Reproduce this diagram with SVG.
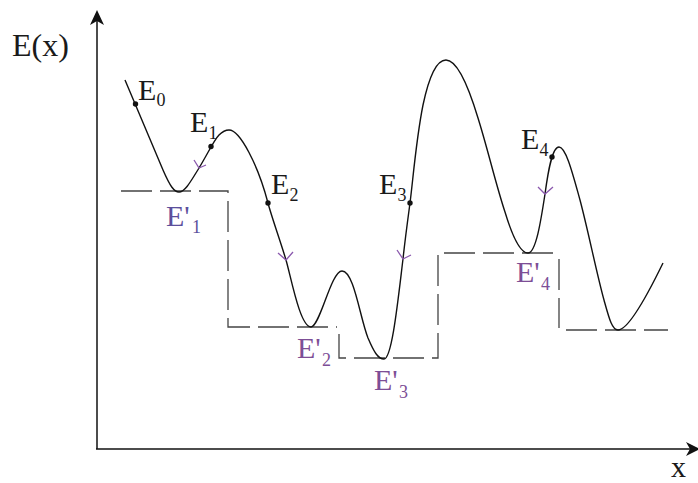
<svg xmlns="http://www.w3.org/2000/svg" width="698" height="483" viewBox="0 0 698 483">
<style>
.lbl{font-family:"Liberation Serif","Times New Roman",serif;font-size:30px;fill:#1a1a1a}
.sub{font-size:18px}
.pl{fill:#7d4e96}
.pl1{fill:#5c4f9c}
.curve{fill:none;stroke:#111;stroke-width:1.4}
.dash{fill:none;stroke:#444;stroke-width:1.3;stroke-dasharray:31 8}
.chev{fill:none;stroke:#8a58ad;stroke-width:1.3}
.axis{stroke:#111;stroke-width:1.5;fill:none}
</style>
<rect width="698" height="483" fill="#fff"/>
<g id="axes">
<line class="axis" x1="97" y1="449" x2="97" y2="16"/>
<path d="M97,10 L104,25 L97,21 L90,25 Z" fill="#111"/>
<line class="axis" x1="96" y1="449" x2="694" y2="449"/>
<path d="M700,449 L686,442 L690,449 L686,456 Z" fill="#111"/>
<text class="lbl" x="12" y="56" style="font-size:32px">E(x)</text>
<text class="lbl" x="671" y="477">x</text>
</g>
<g id="levels">
<path class="dash" d="M121,191 H228 V327 H337"/>
<path class="dash" d="M339,334 V358 H438 V253 H558"/>
<path class="dash" d="M559,259 V328"/>
<path class="dash" d="M566,330 H668"/>
</g>
<g id="curve">
<path class="curve" d="M125,80 L163,170 C170,186 174,192 179,192 C185,192 191,181 199,168 C207,155 214,140 219,135 C223,131 226,130 229,130 C240,130 258,165 268,203 C271,215 281,243 286,260 C291,277 300,327 311,327 C320,327 331,271 342,271 C354,271 360,318 368,338 C374,352 378,359 384,359 C392,359 398,300 403,259 C405,240 408,218 410,203 C413,180 416,140 423,105 C430,72 438,60 446,60 C457,60 468,85 478,118 C488,150 496,185 505,212 C512,235 520,253 528,253 C536,253 541,220 545,194 C548,172 552,147 559,147 C566,147 573,175 580,200 C588,230 597,275 604,300 C609,318 612,330 618,330 C628,330 645,300 663,263"/>
</g>
<g id="connectors">
<path class="chev" d="M194,160 L199,168 L206,165"/>
<path class="chev" d="M278,253 L286,260 L293,252"/>
<path class="chev" d="M397,250 L403,259 L411,255"/>
<path class="chev" d="M538,187 L545,194 L553,187"/>
</g>
<g id="points" fill="#111">
<circle cx="135.5" cy="104" r="2.7"/>
<circle cx="211" cy="146.5" r="2.7"/>
<circle cx="268" cy="203" r="2.7"/>
<circle cx="410" cy="203" r="2.7"/>
<circle cx="552" cy="157" r="2.7"/>
</g>
<g id="E0"><text class="lbl" x="138" y="100">E<tspan class="sub" x="156.5" y="106">0</tspan></text></g>
<g id="E1"><text class="lbl" x="190" y="132">E<tspan class="sub" x="208.5" y="139">1</tspan></text></g>
<g id="E2"><text class="lbl" x="271" y="194">E<tspan class="sub" x="289.5" y="201">2</tspan></text></g>
<g id="E3"><text class="lbl" x="379" y="194">E<tspan class="sub" x="397.5" y="201">3</tspan></text></g>
<g id="E4"><text class="lbl" x="521" y="149">E<tspan class="sub" x="539.5" y="156">4</tspan></text></g>
<g id="Ep1"><text class="lbl pl1" x="166" y="226">E'<tspan class="sub" x="192" y="233">1</tspan></text></g>
<g id="Ep2"><text class="lbl pl" x="297" y="358">E'<tspan class="sub" x="322" y="366">2</tspan></text></g>
<g id="Ep3"><text class="lbl pl" x="374" y="390">E'<tspan class="sub" x="399" y="398">3</tspan></text></g>
<g id="Ep4"><text class="lbl pl" x="516" y="282">E'<tspan class="sub" x="541" y="290">4</tspan></text></g>
</svg>
